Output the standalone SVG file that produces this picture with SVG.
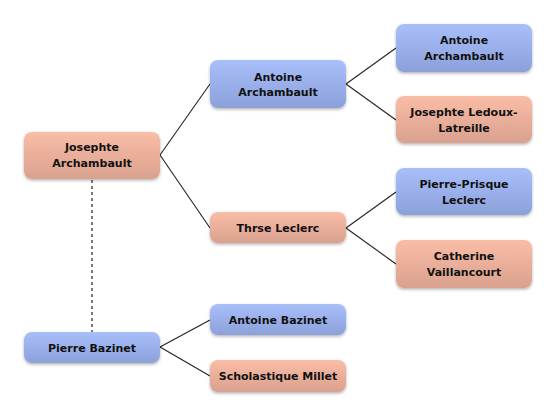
<svg xmlns="http://www.w3.org/2000/svg" width="556" height="416" viewBox="0 0 556 416">
<defs>
<linearGradient id="gb" x1="0" y1="0" x2="0" y2="1"><stop offset="0" stop-color="#a9bffa"/><stop offset="1" stop-color="#8ca1da"/></linearGradient>
<linearGradient id="go" x1="0" y1="0" x2="0" y2="1"><stop offset="0" stop-color="#fabda7"/><stop offset="1" stop-color="#d9a18e"/></linearGradient>
<filter id="sh" x="-10%" y="-20%" width="120%" height="150%"><feDropShadow dx="0" dy="1.5" stdDeviation="1.5" flood-color="#000" flood-opacity="0.3"/></filter>
<style>
.b{fill:url(#gb);filter:url(#sh)}
.o{fill:url(#go);filter:url(#sh)}
text{font-family:"DejaVu Sans",sans-serif;font-weight:bold;font-size:11px;fill:#111;text-anchor:middle}
.c line{stroke:#222;stroke-width:1.1}
</style>
</defs>
<rect width="556" height="416" fill="#fff"/>
<g class="c">
<line x1="160" y1="155" x2="210" y2="84"/>
<line x1="160" y1="155" x2="210" y2="228"/>
<line x1="346" y1="84" x2="396" y2="48"/>
<line x1="346" y1="84" x2="396" y2="120"/>
<line x1="346" y1="228" x2="396" y2="192"/>
<line x1="346" y1="228" x2="396" y2="264"/>
<line x1="160" y1="347" x2="210" y2="320"/>
<line x1="160" y1="347" x2="210" y2="376"/>
<line x1="92" y1="180" x2="92" y2="332" stroke="#777" stroke-width="2" stroke-dasharray="3,3" style="stroke:#777;stroke-width:2"/>
</g>
<g id="n1"><rect class="o" x="24" y="132" width="136" height="47" rx="8"/><text x="92" y="151">Josephte</text><text x="92" y="166.5">Archambault</text></g>
<g id="n2"><rect class="b" x="210" y="60" width="136" height="48" rx="8"/><text x="278" y="80.5">Antoine</text><text x="278" y="96">Archambault</text></g>
<g id="n3"><rect class="b" x="396" y="24" width="136" height="48" rx="8"/><text x="464" y="44">Antoine</text><text x="464" y="59.5">Archambault</text></g>
<g id="n4"><rect class="o" x="396" y="96" width="136" height="47" rx="8"/><text x="464" y="116">Josephte Ledoux-</text><text x="464" y="131.5">Latreille</text></g>
<g id="n5"><rect class="o" x="210" y="212" width="136" height="31" rx="8"/><text x="278" y="232">Thrse Leclerc</text></g>
<g id="n6"><rect class="b" x="396" y="168" width="136" height="47" rx="8"/><text x="464" y="188">Pierre-Prisque</text><text x="464" y="203.5">Leclerc</text></g>
<g id="n7"><rect class="o" x="396" y="240" width="136" height="48" rx="8"/><text x="464" y="260">Catherine</text><text x="464" y="275.5">Vaillancourt</text></g>
<g id="n8"><rect class="b" x="24" y="332" width="136" height="31" rx="8"/><text x="92" y="352">Pierre Bazinet</text></g>
<g id="n9"><rect class="b" x="210" y="304" width="136" height="31" rx="8"/><text x="278" y="324">Antoine Bazinet</text></g>
<g id="n10"><rect class="o" x="210" y="360" width="136" height="32" rx="8"/><text x="278" y="380">Scholastique Millet</text></g>
</svg>
